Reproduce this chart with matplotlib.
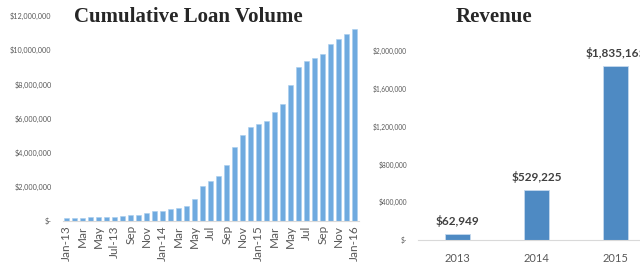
import matplotlib
matplotlib.use('Agg')
import matplotlib.pyplot as plt
from matplotlib.ticker import FuncFormatter

# Cumulative loan volume, monthly Jan-13 .. Jan-16
months = ['Jan-13', 'Feb', 'Mar', 'Apr', 'May', 'Jun', 'Jul-13', 'Aug', 'Sep', 'Oct',
          'Nov', 'Dec', 'Jan-14', 'Feb', 'Mar', 'Apr', 'May', 'Jun', 'Jul', 'Aug',
          'Sep', 'Oct', 'Nov', 'Dec', 'Jan-15', 'Feb', 'Mar', 'Apr', 'May', 'Jun',
          'Jul', 'Aug', 'Sep', 'Oct', 'Nov', 'Dec', 'Jan-16']
loan_volume = [180000, 180000, 180000, 240000, 240000, 240000, 240000, 310000, 370000,
               370000, 490000, 610000, 610000, 680000, 740000, 860000, 1300000, 2050000,
               2370000, 2620000, 3250000, 4320000, 5040000, 5520000, 5700000, 5880000,
               6360000, 6840000, 7970000, 9040000, 9350000, 9530000, 9800000, 10360000,
               10650000, 10930000, 11220000]
loan_ticks = [0, 2000000, 4000000, 6000000, 8000000, 10000000, 12000000]

# Yearly revenue
years = ['2013', '2014', '2015']
revenue = [62949, 529225, 1835165]
revenue_ticks = [0, 400000, 800000, 1200000, 1600000, 2000000]

GRAY = '#595959'


def money(v, pos=None):
    if v == 0:
        return '$-'
    return '${:,.0f}'.format(v)


fig = plt.figure(figsize=(6.4, 2.7), dpi=100)
W, H = 640.0, 270.0

##############################################################################
# Left chart: cumulative loan volume
ax1 = fig.add_axes([62.7 / W, (H - 221) / H, 296 / W, 205 / H])
x1 = list(range(len(months)))
ax1.bar(x1, loan_volume, width=0.62, color='#6FAADF', edgecolor='#A9CDEE', linewidth=0.4)
ax1.set_xlim(-0.5, len(months) - 0.5)
ax1.set_ylim(0, 12000000)
ax1.set_yticks(loan_ticks)
ax1.yaxis.set_major_formatter(FuncFormatter(money))
ax1.set_xticks(x1[::2])
ax1.set_xticklabels(months[::2], rotation=90, fontsize=8.5, color=GRAY, family='Lato')
for lab in ax1.get_yticklabels():
    lab.set_fontsize(5.2)
    lab.set_color(GRAY)
    lab.set_family('Lato')
ax1.tick_params(axis='both', length=0, pad=3)
ax1.tick_params(axis='y', pad=8)
for s in ['top', 'right', 'left']:
    ax1.spines[s].set_visible(False)
ax1.spines['bottom'].set_color('#D9D9D9')
fig.text(188.5 / W, 1 - 17 / H, 'Cumulative Loan Volume', ha='center', va='center',
         fontsize=15, fontweight='bold', family='Liberation Serif', color='#262626')

##############################################################################
# Right chart: revenue per year
ax2 = fig.add_axes([418 / W, (H - 240) / H, 237 / W, 189.3 / H])
x2 = list(range(len(years)))
bars = ax2.bar(x2, revenue, width=0.32, color='#4E8AC3', edgecolor='#C5D9EE', linewidth=0.6)
ax2.set_xlim(-0.5, len(years) - 0.5)
ax2.set_ylim(0, 2000000)
ax2.set_yticks(revenue_ticks)
ax2.yaxis.set_major_formatter(FuncFormatter(money))
ax2.set_xticks(x2)
ax2.set_xticklabels(years, fontsize=8, color=GRAY, family='Lato')
for lab in ax2.get_yticklabels():
    lab.set_fontsize(4.8)
    lab.set_color(GRAY)
    lab.set_family('Lato')
ax2.tick_params(axis='both', length=0)
ax2.tick_params(axis='y', pad=8)
ax2.tick_params(axis='x', pad=9)
for s in ['top', 'right', 'left']:
    ax2.spines[s].set_visible(False)
ax2.spines['bottom'].set_color('#D9D9D9')
for b, v in zip(bars, revenue):
    ax2.annotate('${:,.0f}'.format(v), (b.get_x() + b.get_width() / 2, v),
                 xytext=(0, 5), textcoords='offset points', ha='center', va='bottom',
                 fontsize=8.5, fontweight='bold', color='#404040', family='Lato')
fig.text(494 / W, 1 - 17 / H, 'Revenue', ha='center', va='center',
         fontsize=15, fontweight='bold', family='Liberation Serif', color='#262626')

plt.savefig('out.png', dpi=100)
plt.close()
